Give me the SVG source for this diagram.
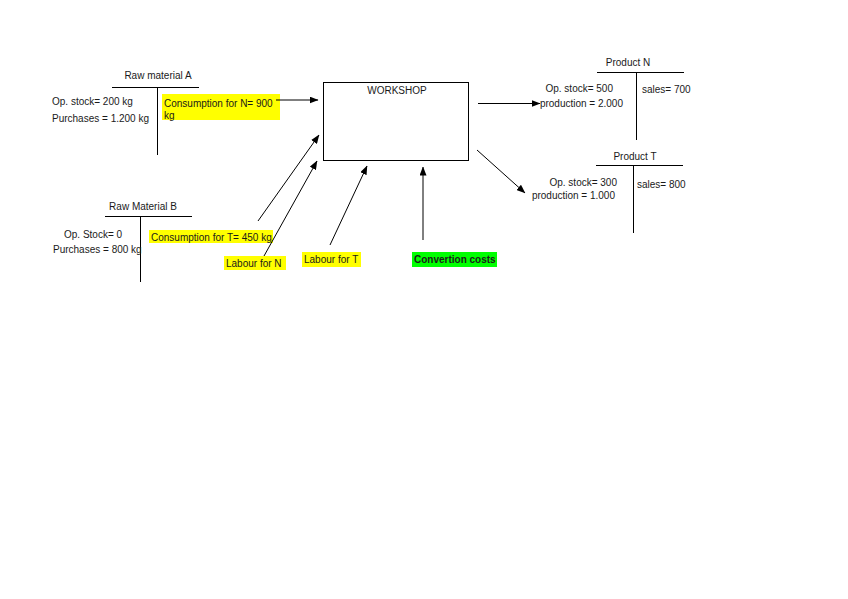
<svg xmlns="http://www.w3.org/2000/svg" width="848" height="599" viewBox="0 0 848 599">
<defs>
<marker id="ah" markerWidth="9" markerHeight="7" refX="8.5" refY="3.5" orient="auto" markerUnits="userSpaceOnUse">
<path d="M0,0 L9,3.5 L0,7 Z" fill="#000"/>
</marker>
<style>
text{font-family:"Liberation Sans",Arial,sans-serif;font-size:10px;fill:#1a1a1a}
.ln{stroke:#000;stroke-width:1;fill:none}
.c{stroke:#000;stroke-width:1;fill:none;marker-end:url(#ah)}
.y{fill:#ffff00}
.g{fill:#00ff00}
.m{text-anchor:middle}
.e{text-anchor:end}
.b{font-weight:bold}
</style>
</defs>
<rect width="848" height="599" fill="#fff"/>

<g id="raw-material-a">
<text class="m" x="158" y="79">Raw material A</text>
<line class="ln" x1="112" y1="87.5" x2="199" y2="87.5"/>
<line class="ln" x1="157.5" y1="87.5" x2="157.5" y2="155"/>
<text x="52" y="105">Op. stock= 200 kg</text>
<text x="52" y="122">Purchases = 1.200 kg</text>
</g>

<g id="consumption-n">
<rect class="y" x="162" y="94" width="118" height="26"/>
<text x="164" y="107">Consumption for N= 900</text>
<text x="164" y="119">kg</text>
</g>

<g id="raw-material-b">
<text class="m" x="143" y="210">Raw Material B</text>
<line class="ln" x1="105" y1="216.5" x2="192" y2="216.5"/>
<line class="ln" x1="140.5" y1="216.5" x2="140.5" y2="282"/>
<text x="64" y="238">Op. Stock= 0</text>
<text x="53" y="253">Purchases = 800 kg</text>
</g>

<g id="consumption-t">
<rect class="y" x="149" y="230" width="124" height="13"/>
<text x="151" y="241">Consumption for T= 450 kg</text>
</g>

<g id="labour-n">
<rect class="y" x="224" y="256" width="62" height="14"/>
<text x="226" y="267">Labour for N</text>
</g>

<g id="labour-t">
<rect class="y" x="302" y="252" width="59" height="15"/>
<text x="304" y="263">Labour for T</text>
</g>

<g id="convertion-costs">
<rect class="g" x="412" y="252" width="85" height="15"/>
<text class="b" x="414" y="263">Convertion costs</text>
</g>

<g id="workshop">
<rect class="ln" x="323.5" y="82.5" width="145" height="78" fill="#fff"/>
<text class="m" x="397" y="94">WORKSHOP</text>
</g>

<g id="product-n">
<text class="m" x="628" y="66">Product N</text>
<line class="ln" x1="597" y1="72.5" x2="684" y2="72.5"/>
<line class="ln" x1="636.5" y1="72.5" x2="636.5" y2="140"/>
<text class="e" x="613" y="92">Op. stock= 500</text>
<text class="e" x="623" y="107">production = 2.000</text>
<text x="642" y="93">sales= 700</text>
</g>

<g id="product-t">
<text class="m" x="635" y="160">Product T</text>
<line class="ln" x1="596" y1="165.5" x2="683" y2="165.5"/>
<line class="ln" x1="633.5" y1="165.5" x2="633.5" y2="233"/>
<text class="e" x="617" y="186">Op. stock= 300</text>
<text class="e" x="615" y="199">production = 1.000</text>
<text x="637" y="188">sales= 800</text>
</g>

<g id="connectors">
<line class="c" x1="276" y1="100" x2="318" y2="100"/>
<line class="c" x1="258" y1="221" x2="319" y2="135"/>
<line class="c" x1="264" y1="256" x2="317" y2="161"/>
<line class="c" x1="330" y1="245" x2="367" y2="166"/>
<line class="c" x1="423" y1="240" x2="423" y2="167"/>
<line class="c" x1="478" y1="103.5" x2="540" y2="103.5"/>
<line class="c" x1="477" y1="150" x2="525" y2="193"/>
</g>
</svg>
